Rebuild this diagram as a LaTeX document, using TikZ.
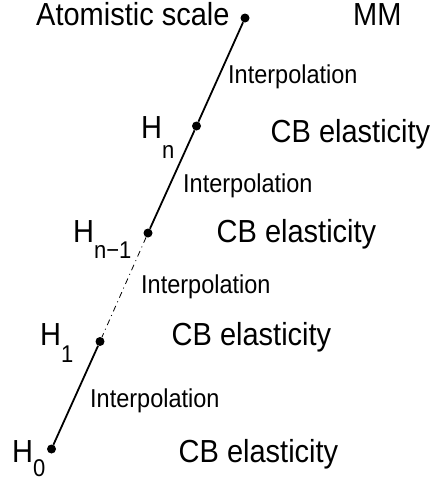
\documentclass[tikz,border=0pt]{standalone}
\usepackage{fontspec}
\usepackage{graphicx}
\setmainfont{Liberation Sans}
\usetikzlibrary{positioning}

% text of the figure is a little taller than Arial
\newcommand{\tall}[1]{\scalebox{1}[1.1]{#1}}
\newcommand{\Hsub}[2][17pt]{\tall{H}\raisebox{-#1}{\fontsize{22}{22}\selectfont\tall{#2}}}

\begin{document}
\begin{tikzpicture}[
    x=1pt, y=-1pt,
    knot/.style={circle, fill=black, inner sep=0pt, minimum size=9pt},
    biglbl/.style={anchor=base west, inner sep=0pt, font=\fontsize{29}{34}\selectfont},
    smalllbl/.style={anchor=base west, inner sep=0pt, font=\fontsize{23.5}{28}\selectfont},
    seg/.style={line width=1.8pt},
    gap/.style={line width=0.8pt, dash pattern=on 6pt off 4pt on 1pt off 4pt}
  ]
  \useasboundingbox (0,0) rectangle (436,482);
  % scale points
  \node[knot] (top)   at (245,18)    {};
  \node[knot] (hn)    at (196.5,126) {};
  \node[knot] (hnm)   at (148,233)   {};
  \node[knot] (hone)  at (100,341.5) {};
  \node[knot] (hzero) at (51.5,449)  {};
  % links
  \draw[seg] (top) -- (hn);
  \draw[seg] (hn) -- (hnm);
  \draw[gap] (hnm) -- (hone);
  \draw[seg] (hone) -- (hzero);
  % left labels
  \node[biglbl] (atom)  at (36,25)   {\tall{Atomistic scale}};
  \node[biglbl] (lhn)   at (141,138) {\Hsub[20pt]{n}};
  \node[biglbl] (lhnm)  at (73,242)  {\Hsub[16pt]{n\char"2212 1}};
  \node[biglbl] (lhone) at (40,345)  {\Hsub[17pt]{1}};
  \node[biglbl] (lhzero) at (12,462) {\Hsub[14pt]{0}};
  % right labels
  \node[biglbl] (mm)   at (353,25)    {\tall{MM}};
  \node[biglbl] (cbn)  at (270.5,142) {\tall{CB elasticity}};
  \node[biglbl] (cbnm) at (216.5,242) {\tall{CB elasticity}};
  \node[biglbl] (cbone) at (171.5,345) {\tall{CB elasticity}};
  \node[biglbl] (cbzero) at (178.5,462) {\tall{CB elasticity}};
  % interpolation
  \node[smalllbl] (ipa) at (228,83)  {\tall{Interpolation}};
  \node[smalllbl] (ipb) at (183,192) {\tall{Interpolation}};
  \node[smalllbl] (ipc) at (141,293) {\tall{Interpolation}};
  \node[smalllbl] (ipd) at (90,407)  {\tall{Interpolation}};
\end{tikzpicture}
\end{document}
